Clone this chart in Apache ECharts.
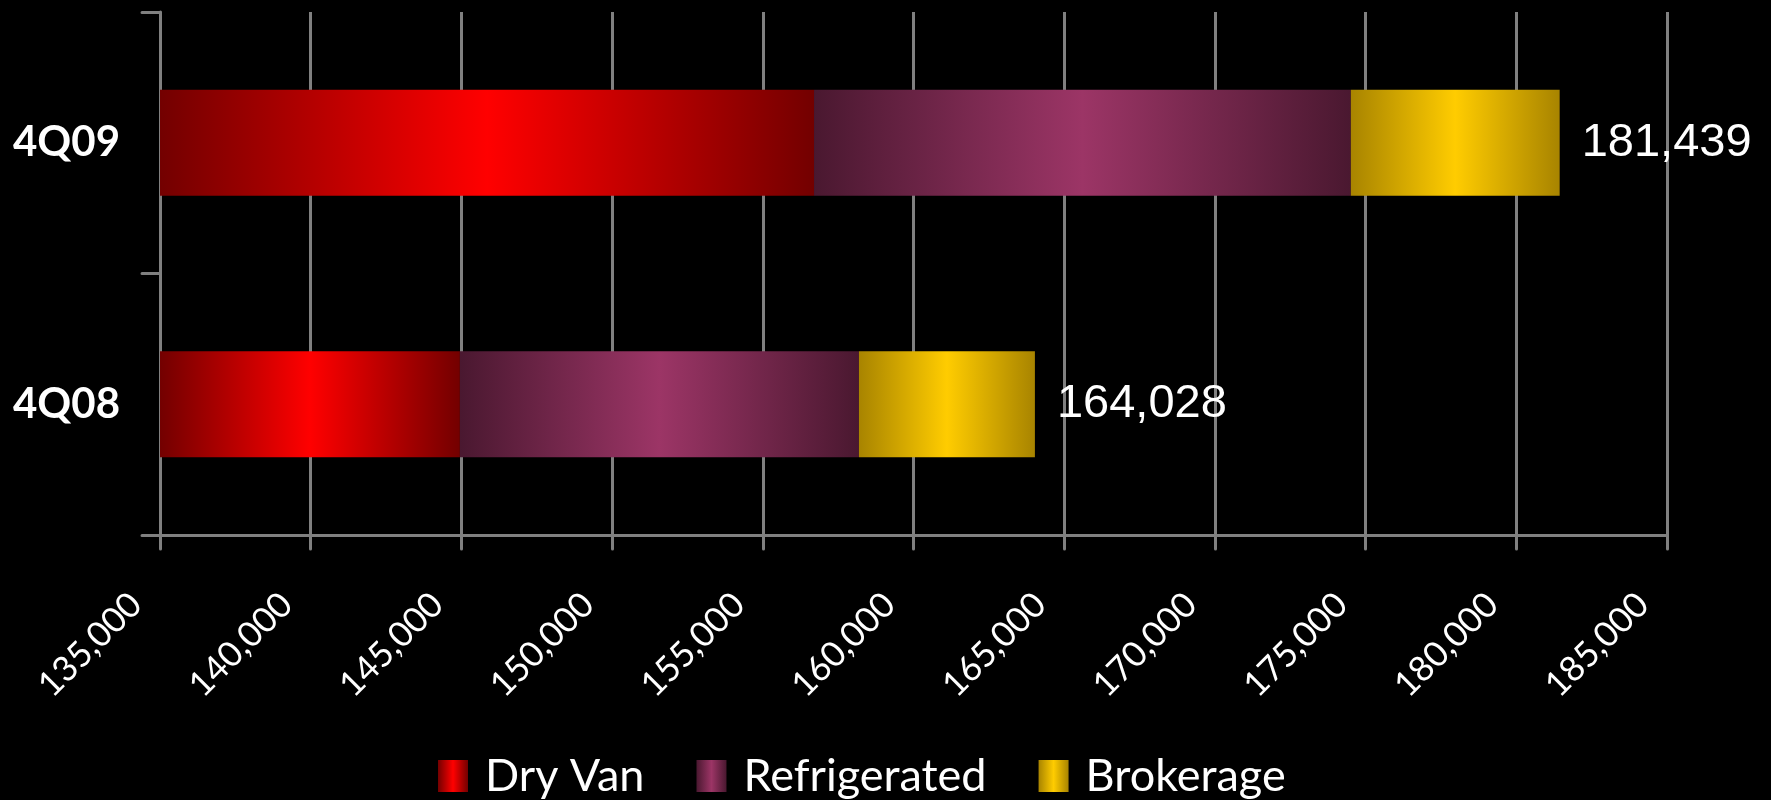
<!DOCTYPE html>
<html>
<head>
<meta charset="utf-8">
<script src="https://cdn.jsdelivr.net/npm/echarts@6/dist/echarts.min.js"></script>
<style>
  html, body { margin: 0; padding: 0; background: #000; }
  #chart { width: 1771px; height: 800px; }
</style>
</head>
<body>
<div id="chart"></div>
<script>
// quarters, bottom to top as echarts lays out a category y axis
const quarters = ['4Q08', '4Q09']
const dryVan = [144950, 156700]
const refrigerated = [13240, 17810]
const brokerage = [5838, 6929]

const axisMin = 135000
const axisMax = 185000
const axisStep = 5000

const fmt = (v) => Number(v).toLocaleString('en-US')

// horizontal "tube" fill, dark at the edges and bright in the middle
function tube(edge, middle) {
  return new echarts.graphic.LinearGradient(0, 0, 1, 0, [
    { offset: 0, color: edge },
    { offset: 0.5, color: middle },
    { offset: 1, color: edge },
  ])
}

const gray = '#808080'

const option = {
  backgroundColor: '#000',
  animation: false,
  grid: {
    left: 160,
    right: 104,
    top: 12,
    bottom: 265,
  },
  legend: {
    left: 433,
    top: 748,
    itemWidth: 30,
    itemHeight: 32,
    itemGap: 52,
    icon: 'rect',
    textStyle: {
      color: '#fff',
      fontFamily: 'Lato',
      fontSize: 45,
      lineHeight: 46,
      padding: [0, 0, 0, 12],
    },
    data: ['Dry Van', 'Refrigerated', 'Brokerage'],
  },
  xAxis: {
    type: 'value',
    min: axisMin,
    max: axisMax,
    interval: axisStep,
    axisLine: {
      show: true,
      lineStyle: { color: gray, width: 3, cap: 'round' },
    },
    axisTick: {
      show: true,
      length: 14,
      lineStyle: { color: gray, width: 3, cap: 'round' },
    },
    splitLine: {
      show: true,
      lineStyle: { color: gray, width: 3 },
    },
    axisLabel: {
      color: '#fff',
      fontFamily: 'Lato',
      fontSize: 35,
      rotate: 45,
      margin: 40,
      padding: [0, 34, 0, 0],
      formatter: fmt,
    },
  },
  yAxis: {
    type: 'category',
    data: quarters,
    axisLine: {
      lineStyle: { color: gray, width: 3, cap: 'round' },
    },
    axisTick: {
      show: true,
      length: 18,
      lineStyle: { color: gray, width: 3, cap: 'round' },
    },
    axisLabel: {
      color: '#fff',
      fontFamily: 'Lato',
      fontWeight: 'bold',
      fontSize: 42,
      margin: 40,
    },
  },
  series: [
    {
      name: 'Dry Van',
      type: 'bar',
      stack: 'total',
      barWidth: 106,
      data: dryVan,
      itemStyle: { color: tube('#730000', '#ff0000') },
    },
    {
      name: 'Refrigerated',
      type: 'bar',
      stack: 'total',
      barWidth: 106,
      data: refrigerated,
      itemStyle: { color: tube('#4a1830', '#9c3566') },
    },
    {
      name: 'Brokerage',
      type: 'bar',
      stack: 'total',
      barWidth: 106,
      data: brokerage,
      itemStyle: { color: tube('#a88400', '#ffcc00') },
      label: {
        show: true,
        position: 'right',
        distance: 22,
        color: '#fff',
        fontFamily: 'Liberation Sans',
        fontSize: 47,
        formatter: (p) => fmt(dryVan[p.dataIndex] + refrigerated[p.dataIndex] + brokerage[p.dataIndex]),
      },
    },
  ],
}

const chart = echarts.init(document.getElementById('chart'))
chart.setOption(option)
window.addEventListener('resize', chart.resize)
</script>
</body>
</html>
